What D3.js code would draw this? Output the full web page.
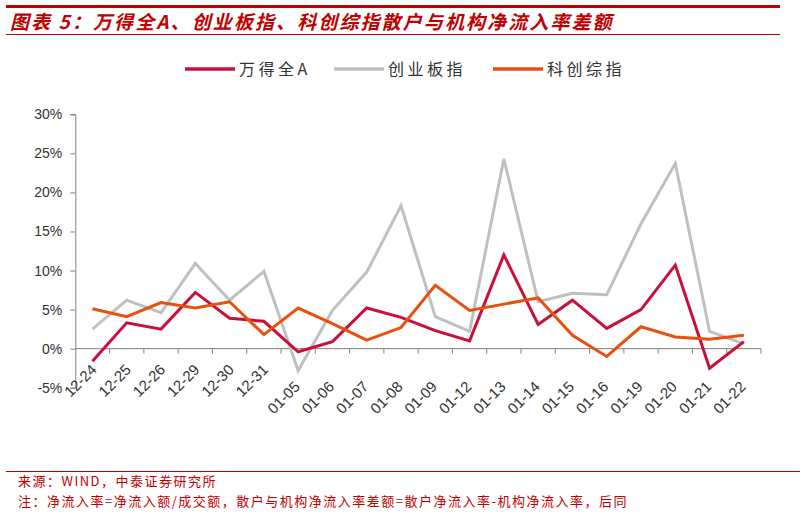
<!DOCTYPE html>
<html><head><meta charset="utf-8">
<script src="https://cdn.jsdelivr.net/npm/d3@7"></script>
<style>body{margin:0;background:#fff}svg{display:block}</style>
</head><body>
<svg id="c" width="804" height="514"></svg>
<script>
const categories = ["12-24","12-25","12-26","12-29","12-30","12-31","01-05","01-06","01-07","01-08","01-09","01-12","01-13","01-14","01-15","01-16","01-19","01-20","01-21","01-22"];
const wind = [-1.6,3.3,2.5,7.2,3.9,3.5,-0.4,0.9,5.2,4.0,2.3,1.0,12.0,3.1,6.2,2.6,5.0,10.7,-2.5,0.9];
const chinext = [2.5,6.2,4.6,10.9,6.2,9.9,-2.8,4.9,9.8,18.3,4.1,2.2,24.3,6.0,7.1,6.9,16.0,23.7,2.2,0.6];
const star = [5.1,4.1,5.9,5.2,6.0,1.8,5.2,3.2,1.1,2.7,8.1,4.9,5.7,6.5,1.7,-1.0,2.8,1.5,1.2,1.7];
const seriesNames = ["万得全A","创业板指","科创综指"];
const seriesColors = ["#C8103A","#C0C0C0","#E8500E"];
const yTicks = [-5,0,5,10,15,20,25,30];

const svg = d3.select("#c");
const red = "#C00000";

// header
svg.append("rect").attr("x",6).attr("y",5).attr("width",774).attr("height",3).attr("fill",red);
svg.append("text").attr("x",10).attr("y",28.5)
  .attr("font-family","'Noto Sans CJK SC'").attr("font-size",19).attr("font-weight","bold")
  .attr("font-style","italic").attr("letter-spacing",2.1).attr("fill",red)
  .text("图表 5：万得全A、创业板指、科创综指散户与机构净流入率差额");
svg.append("rect").attr("x",6).attr("y",34).attr("width",774).attr("height",1).attr("fill",red);

// footer
svg.append("rect").attr("x",6).attr("y",471).attr("width",794).attr("height",1).attr("fill",red);
const foot = svg.append("g").attr("font-family","'Noto Sans CJK SC'").attr("font-size",13)
  .attr("letter-spacing",1.5).attr("fill",red);
foot.append("text").attr("x",18).attr("y",486).text("来源：WIND，中泰证券研究所");
foot.append("text").attr("x",18).attr("y",505.5).text("注：净流入率=净流入额/成交额，散户与机构净流入率差额=散户净流入率-机构净流入率，后同");

// scales
const x = d3.scaleBand().domain(categories).range([75.3,761]).padding(0);
const y = d3.scaleLinear().domain([-5,30]).range([387.7,114.3]);
const axisColor = "#808080";

// y axis
const yAxis = svg.append("g").attr("transform","translate(75.3,0)")
  .call(d3.axisLeft(y).tickValues(yTicks).tickSize(5).tickPadding(8).tickFormat(d=>d+"%"));
yAxis.select(".domain").attr("stroke",axisColor);
yAxis.selectAll(".tick line").attr("stroke",axisColor);
yAxis.selectAll("text").attr("font-family","'Liberation Sans'").attr("font-size",14).attr("fill","#333");

// x axis at zero
const xg = svg.append("g").attr("transform",`translate(0,${y(0)})`);
xg.append("line").attr("x1",75.3).attr("x2",761).attr("stroke",axisColor);
const bounds = d3.range(categories.length+1).map(i => i < categories.length ? x(categories[i]) : x(categories[i-1])+x.bandwidth());
xg.selectAll("line.tk").data(bounds.slice(1)).join("line").attr("class","tk")
  .attr("x1",d=>d).attr("x2",d=>d).attr("y1",0).attr("y2",5).attr("stroke",axisColor);

// x labels
svg.append("g").selectAll("text").data(categories).join("text")
  .attr("transform",d=>{
    const cx = x(d)+x.bandwidth()/2;
    const dec = d.startsWith("12");
    return `translate(${cx + (dec?1.5:-1)},${dec?367:384}) rotate(-45)`;
  })
  .attr("text-anchor","end").attr("dy","0.35em")
  .attr("font-family","'Liberation Sans'").attr("font-size",15).attr("fill","#333")
  .text(d=>d);

// lines
const line = d3.line().x((d,i)=>x(categories[i])+x.bandwidth()/2).y(d=>y(d));
const data = [wind, chinext, star];
[1,0,2].forEach(k=>{
  svg.append("path").attr("d",line(data[k])).attr("fill","none")
    .attr("stroke",seriesColors[k]).attr("stroke-width",3).attr("stroke-linejoin","miter");
});

// legend
const legX = [185,334,493];
const lg = svg.append("g");
seriesNames.forEach((n,i)=>{
  lg.append("line").attr("x1",legX[i]).attr("x2",legX[i]+50).attr("y1",69).attr("y2",69)
    .attr("stroke",seriesColors[i]).attr("stroke-width",3.5);
  lg.append("text").attr("x",legX[i]+54).attr("y",69).attr("dy","0.35em")
    .attr("font-family","'Noto Sans CJK SC'").attr("font-size",16).attr("letter-spacing",3.5)
    .attr("fill","#333").text(n);
});
</script>
</body></html>
